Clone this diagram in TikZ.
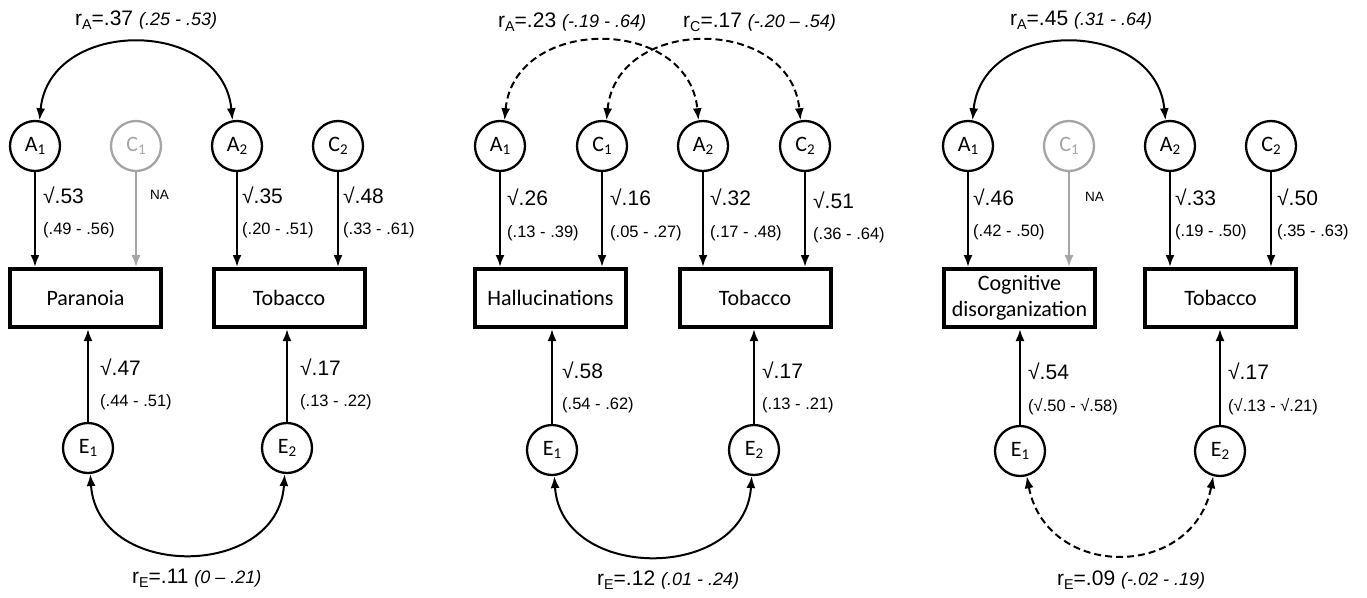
\documentclass[tikz,border=0pt]{standalone}
\usepackage{fontspec}
\setmainfont{Liberation Sans}
\newfontfamily\calib{Carlito}
\usetikzlibrary{arrows.meta}
\definecolor{ngrey}{RGB}{165,165,165}
\newcommand\lsub[1]{\raisebox{-0.35ex}{\scalebox{0.68}{#1}}}
\newcommand\cisty{\itshape\fontsize{18}{20}\selectfont}
\tikzset{
 lat/.style={circle, draw, line width=2.3pt, minimum size=50pt, inner sep=0pt, font=\calib\fontsize{22}{24}\selectfont},
 obs/.style={rectangle, draw, line width=4pt, minimum width=151pt, minimum height=58pt, inner sep=0pt, align=center, font=\calib\fontsize{22}{26}\selectfont},
 arr/.style={line width=2.2pt, -{Latex[length=12pt,width=9pt]}},
 cov/.style={line width=2pt, {Latex[length=12pt,width=9pt]}-{Latex[length=12pt,width=9pt]}},
 dsh/.style={dash pattern=on 7pt off 4pt},
 lab/.style={anchor=west, inner sep=0pt, font=\fontsize{21}{22}\selectfont},
 ci/.style={anchor=west, inner sep=0pt, font=\fontsize{16.5}{18}\selectfont},
 corr/.style={anchor=west, inner sep=0pt, font=\fontsize{21}{22}\selectfont},
 na/.style={anchor=west, inner sep=0pt, font=\fontsize{13.5}{14}\selectfont},
}
\begin{document}
\begin{tikzpicture}[x=1pt,y=-1pt]
\useasboundingbox (0,0) rectangle (1367,597);
% ---------------- Panel 1
\node[lat] (pA1) at (35,146) {A\lsub{1}};
\node[lat, draw=ngrey, text=ngrey] (pC1) at (136,146) {C\lsub{1}};
\node[lat] (pA2) at (237,146) {A\lsub{2}};
\node[lat] (pC2) at (338,146) {C\lsub{2}};
\node[obs] (pY1) at (85.5,298) {Paranoia};
\node[obs] (pY2) at (289,298) {Tobacco};
\node[lat] (pE1) at (88,448) {E\lsub{1}};
\node[lat] (pE2) at (287,448) {E\lsub{2}};
\draw[arr] (pA1) -- (pA1 |- pY1.north);
\draw[arr, ngrey, line width=1.8pt] (pC1) -- (pC1 |- pY1.north);
\draw[arr] (pA2) -- (pA2 |- pY2.north);
\draw[arr] (pC2) -- (pC2 |- pY2.north);
\draw[arr] (pE1) -- (pE1 |- pY1.south);
\draw[arr] (pE2) -- (pE2 |- pY2.south);
\draw[cov] (pA1.80) .. controls +(10,-103) and +(-10,-103) .. (pA2.100);
\draw[cov] (pE1.-85) .. controls +(7,106) and +(-7,106) .. (pE2.-95);
\node[corr] (pRA) at (75,20) {r\lsub{A}=.37 {\cisty (.25 - .53)}};
\node[corr] (pRE) at (132,578) {r\lsub{E}=.11 {\cisty (0 – .21)}};
\node[lab] (pl1) at (43,195) {√.53};
\node[ci] (pc1) at (43,230) {(.49 - .56)};
\node[na] (pna) at (150,195) {NA};
\node[lab] (pl2) at (242,195) {√.35};
\node[ci] (pc2) at (242,230) {(.20 - .51)};
\node[lab] (pl3) at (343,195) {√.48};
\node[ci] (pc3) at (343,230) {(.33 - .61)};
\node[lab] (pl4) at (100,367) {√.47};
\node[ci] (pc4) at (100,402) {(.44 - .51)};
\node[lab] (pl5) at (300,367) {√.17};
\node[ci] (pc5) at (300,402) {(.13 - .22)};
% ---------------- Panel 2
\node[lat] (qA1) at (500,146) {A\lsub{1}};
\node[lat] (qC1) at (602,146) {C\lsub{1}};
\node[lat] (qA2) at (703,146) {A\lsub{2}};
\node[lat] (qC2) at (805,146) {C\lsub{2}};
\node[obs] (qY1) at (550.5,298) {Hallucinations};
\node[obs] (qY2) at (755,298) {Tobacco};
\node[lat] (qE1) at (552,450) {E\lsub{1}};
\node[lat] (qE2) at (754,450) {E\lsub{2}};
\draw[arr] (qA1) -- (qA1 |- qY1.north);
\draw[arr] (qC1) -- (qC1 |- qY1.north);
\draw[arr] (qA2) -- (qA2 |- qY2.north);
\draw[arr] (qC2) -- (qC2 |- qY2.north);
\draw[arr] (qE1) -- (qE1 |- qY1.south);
\draw[arr] (qE2) -- (qE2 |- qY2.south);
\draw[cov, dsh] (qA1.80) .. controls +(10,-105) and +(-10,-105) .. (qA2.100);
\draw[cov, dsh] (qC1.80) .. controls +(10,-105) and +(-10,-105) .. (qC2.100);
\draw[cov] (qE1.-85) .. controls +(7,106) and +(-7,106) .. (qE2.-95);
\node[corr] (qRA) at (498,22) {r\lsub{A}=.23 {\cisty (-.19 - .64)}};
\node[corr] (qRC) at (683,22) {r\lsub{C}=.17 {\cisty (-.20 – .54)}};
\node[corr] (qRE) at (597,580) {r\lsub{E}=.12 {\cisty (.01 - .24)}};
\node[lab] (ql1) at (507,197) {√.26};
\node[ci] (qc1) at (507,233) {(.13 - .39)};
\node[lab] (ql2) at (610,197) {√.16};
\node[ci] (qc2) at (610,233) {(.05 - .27)};
\node[lab] (ql3) at (710,197) {√.32};
\node[ci] (qc3) at (710,233) {(.17 - .48)};
\node[lab] (ql4) at (813,200) {√.51};
\node[ci] (qc4) at (813,235) {(.36 - .64)};
\node[lab] (ql5) at (562,370) {√.58};
\node[ci] (qc5) at (562,405) {(.54 - .62)};
\node[lab] (ql6) at (762,370) {√.17};
\node[ci] (qc6) at (762,405) {(.13 - .21)};
% ---------------- Panel 3
\node[lat] (rA1) at (968,146) {A\lsub{1}};
\node[lat, draw=ngrey, text=ngrey] (rC1) at (1069,146) {C\lsub{1}};
\node[lat] (rA2) at (1170,146) {A\lsub{2}};
\node[lat] (rC2) at (1271,146) {C\lsub{2}};
\node[obs] (rY1) at (1019.5,298) {Cognitive\\disorganization};
\node[obs] (rY2) at (1220.5,298) {Tobacco};
\node[lat] (rE1) at (1020,451) {E\lsub{1}};
\node[lat] (rE2) at (1220,451) {E\lsub{2}};
\draw[arr] (rA1) -- (rA1 |- rY1.north);
\draw[arr, ngrey, line width=1.8pt] (rC1) -- (rC1 |- rY1.north);
\draw[arr] (rA2) -- (rA2 |- rY2.north);
\draw[arr] (rC2) -- (rC2 |- rY2.north);
\draw[arr] (rE1) -- (rE1 |- rY1.south);
\draw[arr] (rE2) -- (rE2 |- rY2.south);
\draw[cov] (rA1.80) .. controls +(10,-103) and +(-10,-103) .. (rA2.100);
\draw[cov, dsh] (rE1.-75) .. controls +(20,104) and +(-20,104) .. (rE2.-105);
\node[corr] (rRA) at (1010,20) {r\lsub{A}=.45 {\cisty (.31 - .64)}};
\node[corr] (rRE) at (1057,580) {r\lsub{E}=.09 {\cisty (-.02 - .19)}};
\node[lab] (rl1) at (973,197) {√.46};
\node[ci] (rc1) at (973,232) {(.42 - .50)};
\node[na] (rna) at (1085,197) {NA};
\node[lab] (rl2) at (1175,197) {√.33};
\node[ci] (rc2) at (1175,232) {(.19 - .50)};
\node[lab] (rl3) at (1277,197) {√.50};
\node[ci] (rc3) at (1277,232) {(.35 - .63)};
\node[lab] (rl4) at (1028,371) {√.54};
\node[ci] (rc4) at (1028,407) {(√.50 - √.58)};
\node[lab] (rl5) at (1228,371) {√.17};
\node[ci] (rc5) at (1228,407) {(√.13 - √.21)};
\end{tikzpicture}
\end{document}
